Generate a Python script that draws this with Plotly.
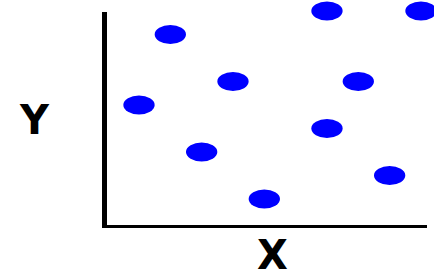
import plotly.graph_objects as go

# Data
x_vals = [2, 7, 10, 4, 8, 1, 7, 3, 9, 5]
y_vals = [9, 10, 10, 7, 7, 6, 5, 4, 3, 2]
x_label = "X"
y_label = "Y"

# Marker half-extents in data units (ellipses)
hx = 0.5
hy = 0.4

fig = go.Figure()
fig.add_trace(go.Scatter(x=x_vals, y=y_vals, mode="markers",
                         marker=dict(size=1, color="rgba(0,0,0,0)"),
                         hoverinfo="skip", showlegend=False))

shapes = []
for xv, yv in zip(x_vals, y_vals):
    shapes.append(dict(type="circle", xref="x", yref="y",
                       x0=xv - hx, x1=xv + hx, y0=yv - hy, y1=yv + hy,
                       fillcolor="#0000ff", line=dict(width=0), layer="above"))

W, H = 434, 277
L, B = 104, 51
pw, ph = W - L, H - B

def px_x(p):
    return (p - L) / pw

def px_y(p):
    return (H - B - p) / ph

# axis lines (paper coords, computed from pixel positions)
shapes.append(dict(type="rect", xref="paper", yref="paper",
                   x0=px_x(102), x1=px_x(107), y0=px_y(228), y1=px_y(12),
                   fillcolor="black", line=dict(width=0)))
shapes.append(dict(type="rect", xref="paper", yref="paper",
                   x0=px_x(102), x1=px_x(427), y0=px_y(228), y1=px_y(225),
                   fillcolor="black", line=dict(width=0)))

fig.update_layout(
    width=W, height=H,
    margin=dict(l=L, r=0, t=0, b=B, pad=0),
    paper_bgcolor="white", plot_bgcolor="white",
    xaxis=dict(range=[-0.117, 10.416], showgrid=False, zeroline=False,
               showticklabels=False, ticks="", showline=False, fixedrange=True),
    yaxis=dict(range=[0.851, 10.468], showgrid=False, zeroline=False,
               showticklabels=False, ticks="", showline=False, fixedrange=True),
    shapes=shapes,
    annotations=[
        dict(text="<b>%s</b>" % x_label, xref="paper", yref="paper",
             x=px_x(272.5), y=px_y(255.5), showarrow=False,
             xanchor="center", yanchor="middle",
             font=dict(family="DejaVu Sans", size=40, color="black")),
        dict(text="<b>%s</b>" % y_label, xref="paper", yref="paper",
             x=px_x(34), y=px_y(119.5), showarrow=False,
             xanchor="center", yanchor="middle",
             font=dict(family="DejaVu Sans", size=40, color="black")),
    ],
)

fig.write_html("out.html", config={"displayModeBar": False},
               post_script="document.body.style.margin='0';document.body.style.overflow='hidden';")
